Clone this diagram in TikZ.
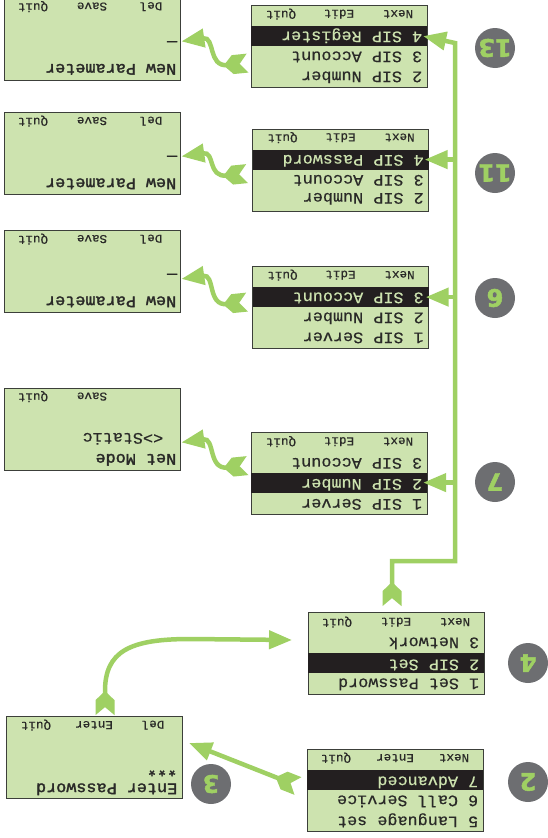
\documentclass[tikz,border=0pt]{standalone}
\usepackage{fontspec}
\usetikzlibrary{arrows.meta, positioning, calc}

\setmainfont{Liberation Sans}
\newfontfamily\lcdfont[FakeStretch=1.05, FakeBold=0.6]{Liberation Mono}
\newfontfamily\lcdheavy[FakeStretch=1.05, FakeBold=2]{Liberation Mono}
\newfontfamily\badgefont[FakeBold=2]{DejaVu Sans Bold}

\definecolor{lcdgreen}{HTML}{CDE3AF}
\definecolor{lcdedge}{HTML}{3C3F3A}
\definecolor{lcdbar}{HTML}{231F20}
\definecolor{lcdtext}{HTML}{2A2A28}
\definecolor{flowgreen}{HTML}{9FD063}
\definecolor{badgegray}{HTML}{6D6E71}

% notched tail of the flow arrows
\pgfdeclarearrow{
  name = Fletch,
  setup code = {
    \pgfarrowssettipend{0pt}
    \pgfarrowssetlineend{-20pt}
    \pgfarrowssetbackend{-24pt}
    \pgfarrowssetvisualbackend{-24pt}
  },
  drawing code = {
    \pgfsetfillcolor{flowgreen}
    \pgfpathmoveto{\pgfqpoint{0pt}{9.5pt}}
    \pgfpathlineto{\pgfqpoint{-8pt}{0pt}}
    \pgfpathlineto{\pgfqpoint{0pt}{-9.5pt}}
    \pgfpathlineto{\pgfqpoint{-15pt}{-9.5pt}}
    \pgfpathlineto{\pgfqpoint{-24pt}{0pt}}
    \pgfpathlineto{\pgfqpoint{-15pt}{9.5pt}}
    \pgfpathclose
    \pgfusepathqfill
  }
}

\begin{document}
\begin{tikzpicture}[
  x=1pt, y=-1pt,
  lcd/.style = {draw=lcdedge, fill=lcdgreen, line width=0.8pt, minimum width=176pt, minimum height=82pt, inner sep=0pt},
  selbar/.style = {fill=lcdbar, minimum width=176pt, minimum height=20pt, inner sep=0pt},
  row/.style = {rotate=180, anchor=west, inner sep=0pt, text height=10pt, text depth=3pt, text=lcdtext, font=\lcdfont\fontsize{16}{16}\selectfont},
  boldrow/.style = {row, font=\lcdheavy\fontsize{16}{16}\selectfont},
  selrow/.style = {row, text=lcdgreen},
  softkey/.style = {rotate=180, inner sep=0pt, text=lcdtext, font=\lcdfont\fontsize{12}{12}\selectfont},
  badge/.style = {circle, fill=badgegray, minimum size=40pt, inner sep=0pt, rotate=180, text=flowgreen, font=\badgefont\fontsize{24}{24}\selectfont},
  flow/.style = {line width=4.5pt, draw=flowgreen, Fletch-{Triangle[length=23pt, width=18pt, fill=flowgreen]}},
  branch/.style = {line width=4.5pt, draw=flowgreen, -{Triangle[length=23pt, width=18pt, fill=flowgreen]}}
]
\useasboundingbox (0,0) rectangle (548,838);

% Advanced menu
\node[lcd] (menuadv) at (395,790.5) {};
\node[selbar] (baradv) at ($(menuadv.north)+(0,31)$) {};
\node[softkey] (advnext) at ($(menuadv.north)+(59,9)$) {Next};
\node[softkey] (adventer) at ($(menuadv.north)+(0,9)$) {Enter};
\node[softkey] (advquit) at ($(menuadv.north)+(-59,9)$) {Quit};
\node[selrow] (advrowa) at ($(menuadv.north east)+(-5,31)$) {7 Advanced};
\node[row] (advrowb) at ($(menuadv.north east)+(-5,50)$) {6 Call Service};
\node[row] (advrowc) at ($(menuadv.north east)+(-5,71)$) {5 Language set};

% Enter Password screen
\node[lcd] (pwscreen) at (94,757.5) {};
\node[softkey] (pwdel) at ($(pwscreen.north)+(59,9)$) {Del};
\node[softkey] (pwenter) at ($(pwscreen.north)+(0,9)$) {Enter};
\node[softkey] (pwquit) at ($(pwscreen.north)+(-58,9)$) {Quit};
\node[boldrow] (pwstars) at ($(pwscreen.north east)+(-5,52)$) {***};
\node[boldrow] (pwtitle) at ($(pwscreen.north east)+(-5,71)$) {Enter Password};

% Network menu
\node[lcd] (menunet) at (396,653.5) {};
\node[selbar] (barnet) at ($(menunet.north)+(0,51)$) {};
\node[softkey] (netnext) at ($(menunet.north)+(59,10)$) {Next};
\node[softkey] (netedit) at ($(menunet.north)+(0,10)$) {Edit};
\node[softkey] (netquit) at ($(menunet.north)+(-59,10)$) {Quit};
\node[row] (netrowa) at ($(menunet.north east)+(-5,29)$) {3 Network};
\node[selrow] (netrowb) at ($(menunet.north east)+(-5,51)$) {2 SIP Set};
\node[row] (netrowc) at ($(menunet.north east)+(-5,70)$) {1 Set Password};

% SIP Number menu
\node[lcd] (menunum) at (339,473) {};
\node[selbar] (barnum) at ($(menunum.north)+(0,51)$) {};
\node[softkey] (numnext) at ($(menunum.north)+(59,10)$) {Next};
\node[softkey] (numedit) at ($(menunum.north)+(0,10)$) {Edit};
\node[softkey] (numquit) at ($(menunum.north)+(-58,10)$) {Quit};
\node[row] (numrowa) at ($(menunum.north east)+(-5,30)$) {3 SIP Account};
\node[selrow] (numrowb) at ($(menunum.north east)+(-5,51)$) {2 SIP Number};
\node[row] (numrowc) at ($(menunum.north east)+(-5,71)$) {1 SIP Server};

% SIP Account menu
\node[lcd] (menuacct) at (340.5,307.5) {};
\node[selbar] (baracct) at ($(menuacct.north)+(0,31)$) {};
\node[softkey] (acctnext) at ($(menuacct.north)+(59,9)$) {Next};
\node[softkey] (acctedit) at ($(menuacct.north)+(0,9)$) {Edit};
\node[softkey] (acctquit) at ($(menuacct.north)+(-58,9)$) {Quit};
\node[selrow] (acctrowa) at ($(menuacct.north east)+(-5,30)$) {3 SIP Account};
\node[row] (acctrowb) at ($(menuacct.north east)+(-5,50)$) {2 SIP Number};
\node[row] (acctrowc) at ($(menuacct.north east)+(-5,70)$) {1 SIP Server};

% SIP Password menu
\node[lcd] (menupass) at (340.5,170) {};
\node[selbar] (barpass) at ($(menupass.north)+(0,31)$) {};
\node[softkey] (passnext) at ($(menupass.north)+(59,9)$) {Next};
\node[softkey] (passedit) at ($(menupass.north)+(0,9)$) {Edit};
\node[softkey] (passquit) at ($(menupass.north)+(-58,9)$) {Quit};
\node[selrow] (passrowa) at ($(menupass.north east)+(-5,30)$) {4 SIP Password};
\node[row] (passrowb) at ($(menupass.north east)+(-5,50)$) {3 SIP Account};
\node[row] (passrowc) at ($(menupass.north east)+(-5,68)$) {2 SIP Number};

% SIP Register menu
\node[lcd] (menureg) at (339,46.5) {};
\node[selbar] (barreg) at ($(menureg.north)+(0,31)$) {};
\node[softkey] (regnext) at ($(menureg.north)+(59,9)$) {Next};
\node[softkey] (regedit) at ($(menureg.north)+(0,9)$) {Edit};
\node[softkey] (regquit) at ($(menureg.north)+(-58,9)$) {Quit};
\node[selrow] (regrowa) at ($(menureg.north east)+(-5,30)$) {4 SIP Register};
\node[row] (regrowb) at ($(menureg.north east)+(-5,50)$) {3 SIP Account};
\node[row] (regrowc) at ($(menureg.north east)+(-5,70)$) {2 SIP Number};

% Net Mode screen
\node[lcd] (modescreen) at (92,429) {};
\node[softkey] (modesave) at ($(modescreen.north)+(0,9)$) {Save};
\node[softkey] (modequit) at ($(modescreen.north)+(-59,9)$) {Quit};
\node[row] (modevalue) at ($(modescreen.north east)+(-17,49)$) {<>Static};
\node[boldrow] (modetitle) at ($(modescreen.north east)+(-4,70)$) {Net Mode};

% New Parameter screens
\node[lcd] (paramc) at (92,271.5) {};
\node[softkey] (paramcdel) at ($(paramc.north)+(59,9)$) {Del};
\node[softkey] (paramcsave) at ($(paramc.north)+(0,9)$) {Save};
\node[softkey] (paramcquit) at ($(paramc.north)+(-59,9)$) {Quit};
\node[boldrow] (paramcval) at ($(paramc.north east)+(-3,49)$) {\_};
\node[boldrow] (paramctitle) at ($(paramc.north east)+(-4,70)$) {New Parameter};

\node[lcd] (paramb) at (92,153.5) {};
\node[softkey] (parambdel) at ($(paramb.north)+(59,9)$) {Del};
\node[softkey] (parambsave) at ($(paramb.north)+(0,9)$) {Save};
\node[softkey] (parambquit) at ($(paramb.north)+(-59,9)$) {Quit};
\node[boldrow] (parambval) at ($(paramb.north east)+(-3,49)$) {\_};
\node[boldrow] (parambtitle) at ($(paramb.north east)+(-4,70)$) {New Parameter};

\node[lcd] (parama) at (92,39) {};
\node[softkey] (paramadel) at ($(parama.north)+(59,9)$) {Del};
\node[softkey] (paramasave) at ($(parama.north)+(0,9)$) {Save};
\node[softkey] (paramaquit) at ($(parama.north)+(-59,9)$) {Quit};
\node[boldrow] (paramaval) at ($(parama.north east)+(-3,49)$) {\_};
\node[boldrow] (paramatitle) at ($(parama.north east)+(-4,70)$) {New Parameter};

% Step badges
\node[badge] (stepb) at (528,782) {2};
\node[badge] (stepc) at (211,784) {3};
\node[badge] (stepd) at (528,663) {4};
\node[badge] (stepg) at (495,482) {7};
\node[badge] (stepf) at (495,298) {6};
\node[badge] (stepk) at (495,173) {11};
\node[badge] (stepm) at (495,48) {13};

% Advanced to Enter Password
\coordinate (advtail) at (298,786);
\coordinate (pwhead) at (189,743);
\draw[flow] (advtail) -- (pwhead);

% Enter Password to Network menu
\coordinate (nethead) at (292,640);
\draw[flow] ([xshift=11pt,yshift=1pt]pwscreen.north) -- +(0,-24) .. controls +(0,-40) and (130,639) .. (190,639) -- (nethead);

% Network menu up the trunk
\coordinate (trunkbase) at (455,561);
\coordinate (trunktop) at (455,43);
\draw[flow] ([xshift=-4pt,yshift=6pt]menunet.north) |- (trunkbase) -- (trunktop) -- ([xshift=-4pt]barreg.east);
\draw[branch] (barnum.east -| trunktop) -- ([xshift=-4pt]barnum.east);
\draw[branch] (baracct.east -| trunktop) -- ([xshift=-3pt]baracct.east);
\draw[branch] (barpass.east -| trunktop) -- ([xshift=-4pt]barpass.east);

% Menus to their edit screens
\draw[flow] ($(menunum.north west)+(-3,34)$) .. controls +(-40,4) and +(34,-5) .. ($(modescreen.south east)+(1,-28)$);
\draw[flow] ($(menuacct.north west)+(-5,36)$) .. controls +(-40,4) and +(34,-5) .. ($(paramc.south east)+(1,-34)$);
\draw[flow] ($(menupass.north west)+(-5,45)$) .. controls +(-40,4) and +(34,-5) .. ($(paramb.south east)+(1,-38.5)$);
\draw[flow] ($(menureg.north west)+(-3,58)$) .. controls +(-40,4) and +(34,-5) .. ($(parama.south east)+(1,-39)$);

\end{tikzpicture}
\end{document}
